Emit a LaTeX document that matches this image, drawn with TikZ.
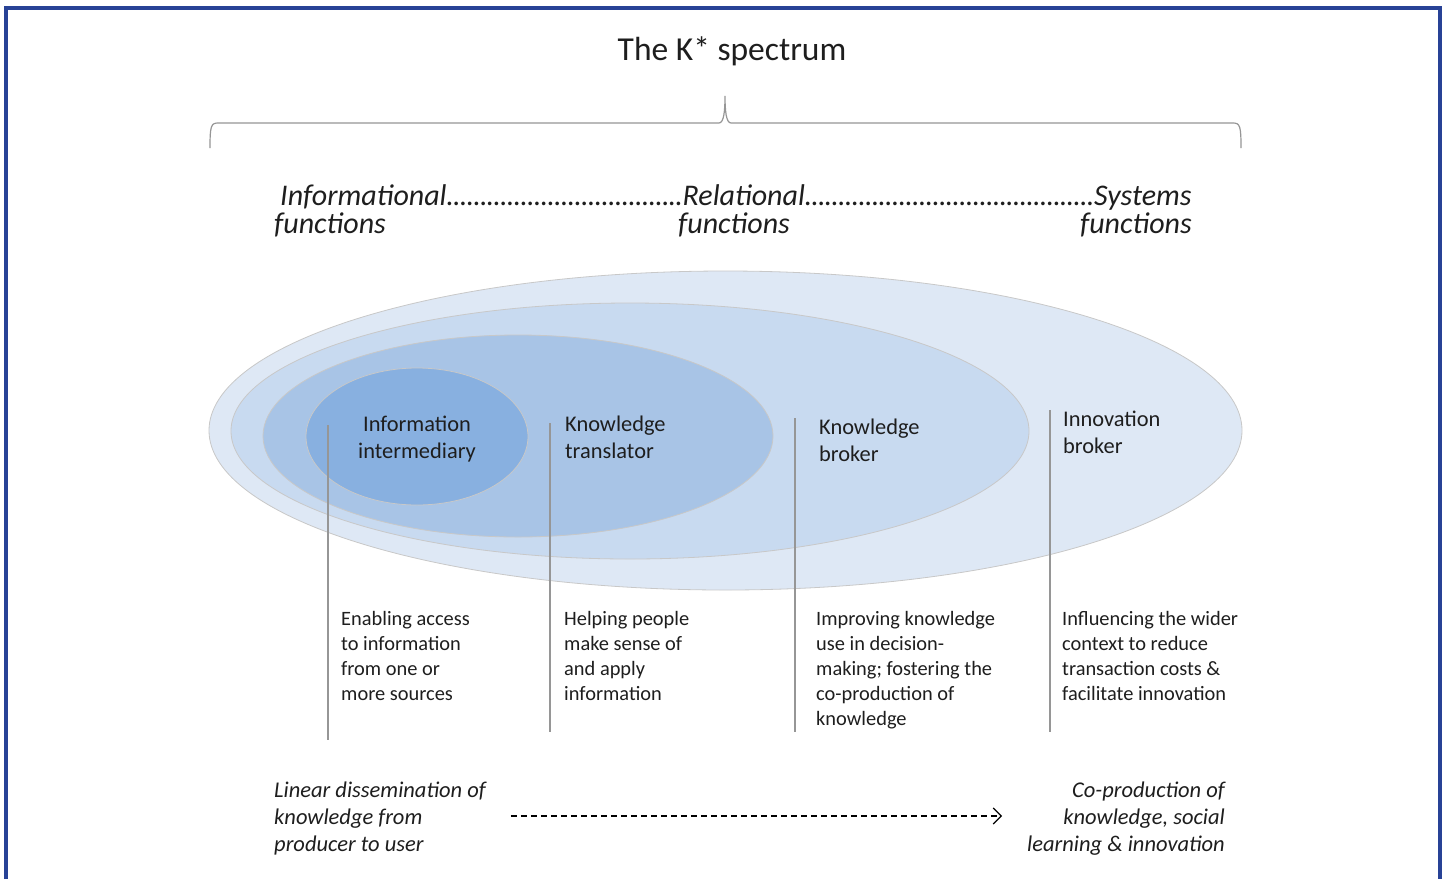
\documentclass[tikz,border=0pt]{standalone}
\usepackage{fontspec}
\setmainfont{Carlito}
\usetikzlibrary{arrows.meta,shapes.geometric,positioning}

\definecolor{framebl}{RGB}{40,66,150}
\definecolor{ringA}{RGB}{222,232,245}
\definecolor{ringB}{RGB}{200,218,240}
\definecolor{ringC}{RGB}{168,196,230}
\definecolor{ringD}{RGB}{136,176,224}
\definecolor{rimgray}{RGB}{200,200,200}
\definecolor{linegray}{RGB}{150,150,150}
\definecolor{txt}{RGB}{30,30,30}

\newcommand{\densedots}{\xleaders\hbox to 0.22em{\hss.\hss}\hfill}

\tikzset{
  ring/.style={ellipse,draw=rimgray,line width=0.8pt,inner sep=0pt},
  lbl/.style={align=left,anchor=base west,inner sep=0pt,text=txt,
              font=\fontsize{22.4}{27}\selectfont},
  desc/.style={align=left,anchor=base west,inner sep=0pt,text=txt,
               font=\fontsize{20.4}{25}\selectfont},
  head/.style={inner sep=0pt,text=txt,font=\fontsize{30}{28}\selectfont\itshape},
  foot/.style={inner sep=0pt,text=txt,font=\fontsize{22.5}{27}\selectfont\itshape},
  divider/.style={draw=linegray,line width=1.2pt},
}

\begin{document}
\begin{tikzpicture}[x=1pt,y=-1pt]
\useasboundingbox (0,0) rectangle (1445,879);
\fill[white] (0,0) rectangle (1445,879);
% frame (runs off the bottom)
\draw[framebl,line width=3.5pt] (6,879) -- (6,8) -- (1440,8) -- (1440,879);

% title and brace
\node[inner sep=0pt,anchor=base,text=txt,font=\fontsize{33.5}{34}\selectfont] (title) at (732,60) {The K* spectrum};
\draw[linegray,line width=1.2pt] (210,148) .. controls (210,126) and (211,123) .. (218,123) -- (719,123)
  .. controls (724,123) and (725,110) .. (725,96) .. controls (725,110) and (726,123) .. (731,123)
  -- (1233,123) .. controls (1240,123) and (1241,126) .. (1241,148);

% spectrum headings
\node[head,anchor=base west] (spec) at (280,205)
  {\makebox[403pt][l]{Informational\densedots}\makebox[412pt][l]{Relational\densedots}Systems};
\node[head,anchor=base west] (fInf) at (274,233) {functions};
\node[head,anchor=base west] (fRel) at (678,233) {functions};
\node[head,anchor=base east] (fSys) at (1192,233) {functions};

% nested ellipses
\node[ring,fill=ringA,minimum width=1033pt,minimum height=319pt] (outer) at (725.5,430.5) {};
\node[ring,fill=ringB,minimum width=798pt,minimum height=256pt]  (broker) at (630,431) {};
\node[ring,fill=ringC,minimum width=510pt,minimum height=202pt]  (transl) at (518,436) {};
\node[ring,fill=ringD,minimum width=222pt,minimum height=137pt]  (inter) at (417,436.5) {};

% role labels (base = last line)
\node[lbl,align=center,anchor=base] (lInter) at (417,458) {Information\\intermediary};
\node[lbl] (lTransl) at (565,458) {Knowledge\\translator};
\node[lbl] (lBroker) at (819,461) {Knowledge\\broker};
\node[lbl] (lInnov) at (1063,453) {Innovation\\broker};

% divider lines
\coordinate (d1t) at (328,425);  \coordinate (d1b) at (328,740);
\coordinate (d2t) at (550,423);  \coordinate (d2b) at (550,732);
\coordinate (d3t) at (795,418);  \coordinate (d3b) at (795,732);
\coordinate (d4t) at (1050,410); \coordinate (d4b) at (1050,732);
\foreach \i in {1,...,4}
  \draw[divider] (d\i t) -- (d\i b);

% descriptions
\node[desc] (dInter) at (341,700) {Enabling access\\to information\\from one or\\more sources};
\node[desc] (dTransl) at (564,700) {Helping people\\make sense of\\and apply\\information};
\node[desc] (dBroker) at (816,725) {Improving knowledge\\use in decision-\\making; fostering the\\co-production of\\knowledge};
\node[desc] (dInnov) at (1062,700) {Influencing the wider\\context to reduce\\transaction costs \&\\facilitate innovation};

% bottom continuum
\node[foot,align=left,anchor=base west] (linear) at (274,851) {Linear dissemination of\\knowledge from\\producer to user};
\node[foot,align=right,anchor=base east] (coprod) at (1225,851) {Co-production of\\knowledge, social\\learning \& innovation};
\draw[dashed,line width=1.2pt,dash pattern=on 6pt off 4pt,-{Straight Barb[length=8pt,width=16pt]}]
  (linear.east |- 0,816) ++(25,0) coordinate (arrS) (coprod.west |- 0,816) ++(-25,0) coordinate (arrE)
  (arrS) -- (arrE);
\end{tikzpicture}
\end{document}
